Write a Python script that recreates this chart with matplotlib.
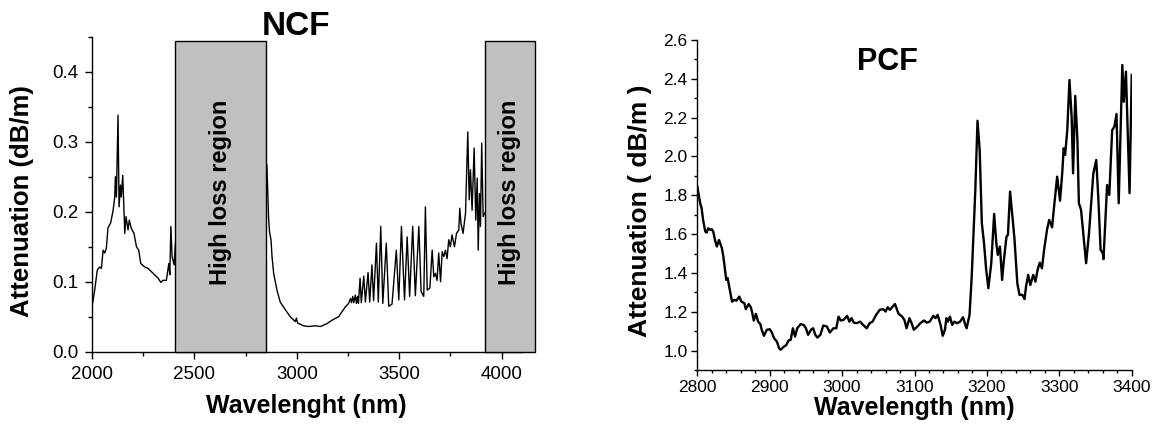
import numpy as np
import matplotlib
matplotlib.use("Agg")
import matplotlib.pyplot as plt
from matplotlib.patches import Rectangle
from matplotlib.ticker import MultipleLocator

plt.rcParams["font.family"] = ["Liberation Sans", "DejaVu Sans"]

# ── Data: NCF attenuation ────────────────────────────────────────────────────
ncf_wl = [
    2000, 2013, 2026, 2038, 2046, 2054, 2062, 2070, 2078, 2091, 2103, 2111,
    2114, 2119, 2127, 2132, 2139, 2143, 2150, 2160, 2166, 2176, 2182, 2192,
    2205, 2217, 2228, 2238, 2258, 2274, 2298, 2323, 2336, 2347, 2363, 2375,
    2380, 2385, 2391, 2401, 2407,
    2854, 2862, 2867, 2874, 2879, 2887, 2903, 2919, 2944, 2968, 2993, 2998,
    3004, 3033, 3058, 3090, 3115, 3147, 3172, 3204, 3237, 3253,
    3262, 3267, 3273, 3278, 3286, 3291, 3297, 3301, 3309, 3315, 3327, 3335,
    3348, 3356, 3367, 3375, 3389, 3398, 3410, 3420, 3437, 3449, 3465, 3486,
    3498, 3511, 3526, 3539, 3551, 3566, 3579, 3596, 3607, 3620, 3628, 3637,
    3650, 3661, 3669, 3677, 3685, 3693, 3702, 3710, 3718, 3726, 3734, 3742,
    3750, 3758, 3770, 3780, 3791, 3796, 3802, 3812, 3824, 3835, 3842, 3848,
    3856, 3866, 3874, 3881, 3886, 3892, 3897, 3903, 3910, 3917,
]
ncf_att = [
    0.064, 0.088, 0.117, 0.121, 0.119, 0.145, 0.141, 0.148, 0.177, 0.184, 0.202, 0.221,
    0.250, 0.221, 0.338, 0.207, 0.238, 0.221, 0.252, 0.169, 0.193, 0.174, 0.188, 0.176,
    0.169, 0.150, 0.145, 0.126, 0.121, 0.119, 0.112, 0.105, 0.099, 0.102, 0.102, 0.126,
    0.110, 0.179, 0.136, 0.124, 0.155,
    0.267, 0.193, 0.171, 0.160, 0.136, 0.112, 0.088, 0.071, 0.060, 0.050, 0.043, 0.048,
    0.041, 0.037, 0.036, 0.037, 0.036, 0.040, 0.045, 0.050, 0.064, 0.069,
    0.076, 0.070, 0.079, 0.070, 0.081, 0.069, 0.079, 0.069, 0.105, 0.070, 0.108, 0.071,
    0.113, 0.071, 0.124, 0.073, 0.155, 0.071, 0.179, 0.069, 0.155, 0.065, 0.068, 0.145,
    0.074, 0.179, 0.074, 0.164, 0.079, 0.179, 0.080, 0.179, 0.086, 0.079, 0.207, 0.088,
    0.091, 0.145, 0.107, 0.112, 0.102, 0.141, 0.100, 0.143, 0.136, 0.145, 0.133, 0.160,
    0.150, 0.167, 0.150, 0.169, 0.174, 0.205, 0.183, 0.169, 0.198, 0.314, 0.217, 0.260,
    0.202, 0.291, 0.188, 0.248, 0.145, 0.226, 0.179, 0.298, 0.193, 0.198,
]

# high loss regions (start, end) in nm
loss_regions = [(2406, 2851), (3917, 4165)]
loss_top = 0.444

# ── Data: PCF attenuation ─────────────────────────────────────────────────────
pcf_wl = [
    2800, 2804, 2806, 2808, 2811, 2813, 2815, 2818, 2820, 2822, 2825, 2827,
    2830, 2834, 2836, 2840, 2842, 2844, 2848, 2851, 2854, 2858, 2861, 2865,
    2867, 2871, 2874, 2876, 2878, 2881, 2884, 2887, 2889, 2892, 2896, 2900,
    2903, 2906, 2910, 2913, 2915, 2919, 2923, 2926, 2929, 2932, 2935, 2938,
    2943, 2947, 2950, 2953, 2957, 2960, 2963, 2966, 2970, 2974, 2979, 2983,
    2988, 2992, 2995, 2998, 3002, 3007, 3010, 3013, 3016, 3020, 3025, 3029,
    3034, 3038, 3042, 3047, 3052, 3057, 3060, 3063, 3066, 3070, 3073, 3076,
    3078, 3083, 3086, 3089, 3093, 3096, 3099, 3104, 3108, 3113, 3117, 3121,
    3126, 3129, 3132, 3136, 3139, 3142, 3144, 3146, 3149, 3152, 3155, 3159,
    3163, 3167, 3170, 3172, 3176, 3179, 3184, 3187, 3190, 3193, 3196, 3199,
    3202, 3206, 3210, 3213, 3215, 3218, 3221, 3223, 3227, 3229, 3232, 3236,
    3238, 3242, 3245, 3249, 3252, 3254, 3257, 3260, 3264, 3267, 3270, 3273,
    3276, 3279, 3283, 3286, 3290, 3293, 3297, 3301, 3304, 3306, 3308, 3311,
    3314, 3317, 3319, 3322, 3325, 3327, 3330, 3334, 3337, 3341, 3344, 3347,
    3351, 3354, 3357, 3360, 3361, 3366, 3369, 3373, 3376, 3379, 3382, 3387,
    3389, 3392, 3397, 3400,
]
pcf_att = [
    1.845, 1.759, 1.733, 1.673, 1.613, 1.608, 1.630, 1.622, 1.625, 1.613, 1.561, 1.536,
    1.570, 1.527, 1.484, 1.364, 1.373, 1.330, 1.252, 1.261, 1.257, 1.278, 1.252, 1.244,
    1.213, 1.240, 1.223, 1.193, 1.154, 1.189, 1.149, 1.137, 1.107, 1.076, 1.107, 1.110,
    1.093, 1.064, 1.046, 1.012, 1.004, 1.018, 1.029, 1.052, 1.055, 1.115, 1.072, 1.115,
    1.137, 1.132, 1.115, 1.081, 1.107, 1.115, 1.081, 1.067, 1.081, 1.129, 1.124, 1.093,
    1.115, 1.115, 1.175, 1.155, 1.158, 1.179, 1.149, 1.167, 1.144, 1.141, 1.149, 1.132,
    1.115, 1.141, 1.149, 1.184, 1.210, 1.213, 1.201, 1.223, 1.210, 1.227, 1.240, 1.210,
    1.189, 1.175, 1.158, 1.115, 1.167, 1.141, 1.107, 1.124, 1.141, 1.155, 1.144, 1.149,
    1.179, 1.167, 1.184, 1.132, 1.076, 1.107, 1.167, 1.149, 1.175, 1.132, 1.149, 1.141,
    1.149, 1.172, 1.134, 1.115, 1.184, 1.381, 1.828, 2.184, 2.033, 1.656, 1.553, 1.416,
    1.321, 1.450, 1.704, 1.553, 1.493, 1.536, 1.364, 1.450, 1.587, 1.596, 1.819, 1.656,
    1.579, 1.347, 1.287, 1.287, 1.265, 1.330, 1.390, 1.338, 1.390, 1.355, 1.416, 1.453,
    1.424, 1.519, 1.622, 1.673, 1.635, 1.750, 1.896, 1.772, 1.913, 2.042, 2.008, 2.136,
    2.394, 2.205, 1.913, 2.312, 2.085, 1.759, 1.725, 1.570, 1.450, 1.605, 1.759, 1.913,
    1.982, 1.776, 1.519, 1.502, 1.471, 1.853, 1.802, 2.136, 2.153, 2.219, 1.759, 2.471,
    2.282, 2.437, 1.811, 2.420,
]

BOX_GREY = "#c0c0c0"


def style_axes(ax, tick_size, major_len, minor_len, pad):
    for side in ("top", "right"):
        ax.spines[side].set_visible(False)
    for side in ("left", "bottom"):
        ax.spines[side].set_linewidth(1.0)
    ax.tick_params(which="major", direction="out", length=major_len, width=1.0,
                   labelsize=tick_size, pad=pad)
    ax.tick_params(which="minor", direction="out", length=minor_len, width=1.0)


fig = plt.figure(figsize=(11.56, 4.26), dpi=100)

# ── Left: NCF ─────────────────────────────────────────────────────────────────
ax1 = fig.add_axes([0.0796, 0.1744, 0.372, 0.7394])
ax1.plot(ncf_wl, ncf_att, color="black", lw=1.0, zorder=2)
for x0, x1 in loss_regions:
    ax1.add_patch(Rectangle((x0, 0), x1 - x0, loss_top, facecolor=BOX_GREY,
                            edgecolor="black", lw=1.0, zorder=3, clip_on=False))
    ax1.text((x0 + x1) / 2, 0.228, "High loss region", rotation=90,
             ha="center", va="center", fontsize=17, fontweight="bold", zorder=4)
ax1.set_xlim(2000, 4100)
ax1.set_ylim(0, 0.45)
ax1.xaxis.set_major_locator(MultipleLocator(500))
ax1.xaxis.set_minor_locator(MultipleLocator(250))
ax1.yaxis.set_major_locator(MultipleLocator(0.1))
ax1.yaxis.set_minor_locator(MultipleLocator(0.05))
style_axes(ax1, 13.5, 5, 3, 5)

fig.text(0.256, 0.918, "NCF", ha="center", va="baseline",
         fontsize=24, fontweight="bold")
fig.text(0.019, 0.528, "Attenuation (dB/m)", rotation=90, ha="center",
         va="center", fontsize=18.5, fontweight="bold")
fig.text(0.265, 0.030, "Wavelenght (nm)", ha="center", va="baseline",
         fontsize=18, fontweight="bold")

# ── Right: PCF ────────────────────────────────────────────────────────────────
ax2 = fig.add_axes([0.6032, 0.1315, 0.3758, 0.7746])
ax2.plot(pcf_wl, pcf_att, color="black", lw=1.7)
ax2.set_xlim(2800, 3400)
ax2.set_ylim(0.9, 2.6)
ax2.xaxis.set_major_locator(MultipleLocator(100))
ax2.xaxis.set_minor_locator(MultipleLocator(20))
ax2.yaxis.set_major_locator(MultipleLocator(0.2))
ax2.yaxis.set_minor_locator(MultipleLocator(0.1))
ax2.yaxis.set_major_formatter(plt.FuncFormatter(lambda v, _: f"{v:.1f}"))
style_axes(ax2, 12.5, 4, 2.5, 3)

fig.text(0.768, 0.836, "PCF", ha="center", va="baseline",
         fontsize=22, fontweight="bold")
fig.text(0.554, 0.505, "Attenuation ( dB/m )", rotation=90, ha="center",
         va="center", fontsize=19, fontweight="bold")
fig.text(0.791, 0.026, "Wavelength (nm)", ha="center", va="baseline",
         fontsize=18, fontweight="bold")

plt.savefig("out.png", dpi=100, facecolor="white")
